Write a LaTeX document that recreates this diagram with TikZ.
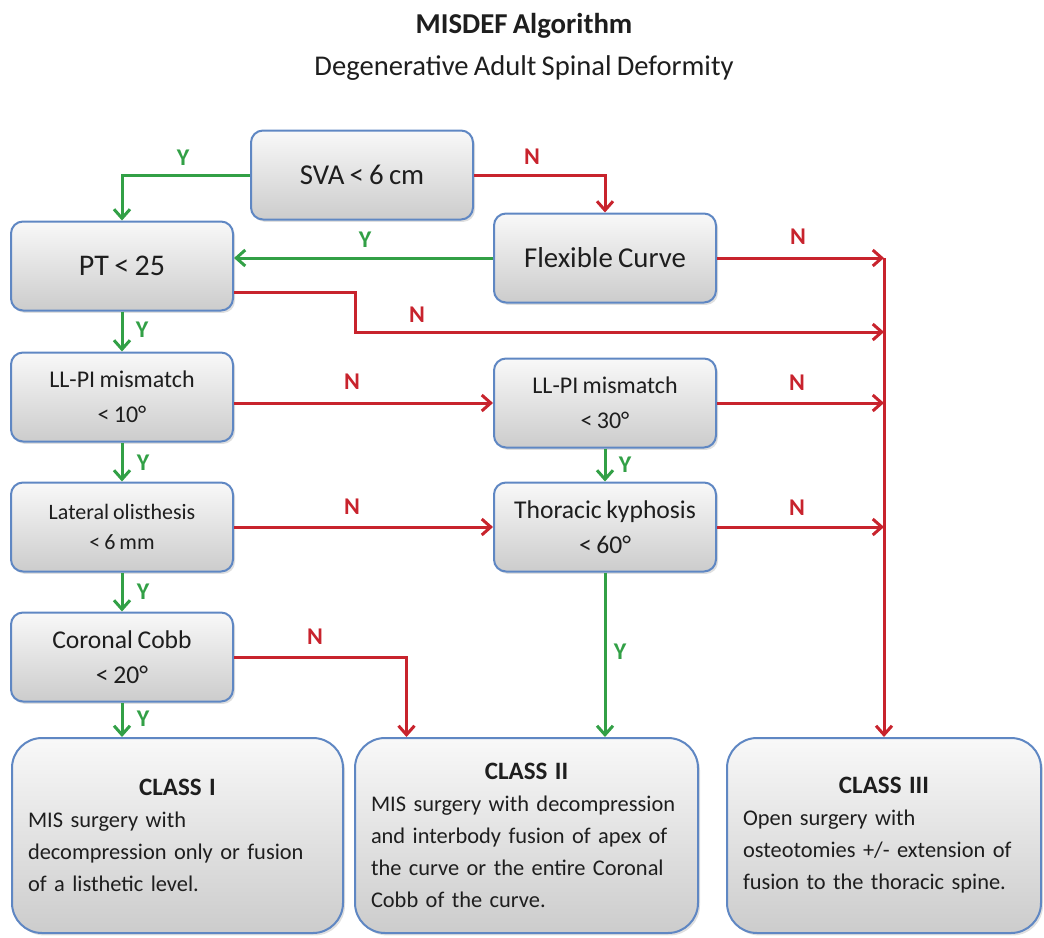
\documentclass[tikz,border=0pt]{standalone}
\usepackage{fontspec}
\setmainfont[WordSpace=0.8]{Carlito}
\usetikzlibrary{shadows,arrows.meta}

\definecolor{boxblue}{RGB}{95,135,195}
\definecolor{yesgreen}{RGB}{50,160,70}
\definecolor{nored}{RGB}{200,35,45}
\definecolor{txt}{RGB}{30,30,30}

\tikzset{
  >={Straight Barb[length=4.5pt,width=8pt]},
  cond/.style={draw=boxblue, line width=1pt, rounded corners=6pt,
    top color=gray!5, bottom color=gray!40,
    drop shadow={opacity=0.25, shadow xshift=1pt, shadow yshift=-1.2pt},
    minimum width=111pt, minimum height=44.5pt, align=center, text=txt,
    font=\fontsize{12}{17.5}\selectfont},
  classbox/.style={cond, rounded corners=15pt, minimum height=97.5pt,
    inner xsep=8pt, align=left, font=\fontsize{11.2}{16}\selectfont},
  yesarrow/.style={draw=yesgreen, line width=1.5pt, ->},
  noarrow/.style={draw=nored, line width=1.5pt, ->},
  ylabel/.style={text=yesgreen, font=\bfseries\fontsize{12}{12}\selectfont},
  nlabel/.style={text=nored, font=\bfseries\fontsize{12}{12}\selectfont}
}

\begin{document}
\begin{tikzpicture}[x=0.5pt,y=-0.5pt]
\useasboundingbox (0,0) rectangle (1044,937);

\node[anchor=base, text=txt, font=\bfseries\fontsize{14.4}{17}\selectfont] at (524,33) (title) {MISDEF Algorithm};
\node[anchor=base, text=txt, font=\fontsize{14.3}{17}\selectfont] at (524,75) (subtitle) {Degenerative Adult Spinal Deformity};

\node[cond, font=\fontsize{14.4}{17}\selectfont] at (362,175) (sva) {SVA < 6 cm};
\node[cond, font=\fontsize{14.4}{17}\selectfont] at (605,258) (flex) {Flexible Curve};
\node[cond, font=\fontsize{15}{17}\selectfont] at (122,266) (pt) {PT < 25};
\node[cond] at (122,397) (llpi1) {LL-PI mismatch\\< 10°};
\node[cond] at (605,403) (llpi2) {LL-PI mismatch\\< 30°};
\node[cond, font=\fontsize{11}{15}\selectfont] at (122,527) (olis) {Lateral olisthesis\\< 6 mm};
\node[cond, font=\fontsize{12.8}{17.5}\selectfont] at (605,527) (kyph) {Thoracic kyphosis\\< 60°};
\node[cond, font=\fontsize{12.8}{17.5}\selectfont] at (122,657) (cobb) {Coronal Cobb\\< 20°};

\node[classbox, minimum width=165.5pt, text width=149.5pt] at (177.5,835.5) (cls1)
  {{\centering\bfseries\fontsize{12.5}{16}\selectfont CLASS I\par}\raggedright
   MIS surgery with\\decompression only or fusion\\of a listhetic level.};
\node[classbox, minimum width=171.5pt, text width=155.5pt] at (526.5,835.5) (cls2)
  {{\centering\bfseries\fontsize{12.5}{16}\selectfont CLASS II\par}\raggedright
   MIS surgery with decompression\\and interbody fusion of apex of\\the curve or the entire Coronal\\Cobb of the curve.};
\node[classbox, minimum width=157pt, text width=141pt] at (884,835.5) (cls3)
  {{\centering\bfseries\fontsize{12.5}{16}\selectfont CLASS III\par}\raggedright
   Open surgery with\\osteotomies +/- extension of\\fusion to the thoracic spine.};

\coordinate (ptbend) at (355,332);

\draw[yesarrow] (sva.west) -| (pt.north);
\draw[noarrow] (sva.east) -| (flex.north);
\draw[yesarrow] (flex.west) -- (flex.west -| pt.east);
\draw[noarrow] (flex.east) -- (flex.east -| cls3.north);
\draw[noarrow] ([yshift=-13pt]pt.east) -| (ptbend) -- (ptbend -| cls3.north);
\draw[noarrow] (flex.east -| cls3.north) -- (cls3.north);

\draw[yesarrow] (pt.south) -- (llpi1.north);
\draw[yesarrow] (llpi1.south) -- (olis.north);
\draw[yesarrow] (olis.south) -- (cobb.north);
\draw[yesarrow] (cobb.south) -- (cobb.south |- cls1.north);

\draw[noarrow] (llpi2.west -| llpi1.east) -- (llpi2.west);
\draw[noarrow] (olis.east) -- (kyph.west);
\draw[noarrow] (llpi2.east) -- (llpi2.east -| cls3.north);
\draw[noarrow] (kyph.east) -- (kyph.east -| cls3.north);
\draw[yesarrow] (llpi2.south) -- (kyph.north);
\draw[yesarrow] (kyph.south) -- (kyph.south |- cls2.north);
\draw[noarrow] (cobb.east) -| ([xshift=-60pt]cls2.north);

\node[ylabel] at (183,158) (y1) {Y};
\node[nlabel] at (532,157) (n1) {N};
\node[ylabel] at (365,240) (y2) {Y};
\node[nlabel] at (798,237) (n2) {N};
\node[nlabel] at (417,315) (n3) {N};
\node[ylabel] at (142,330) (y3) {Y};
\node[nlabel] at (352,382) (n4) {N};
\node[nlabel] at (797,383) (n5) {N};
\node[ylabel] at (143,463) (y4) {Y};
\node[ylabel] at (625,465) (y5) {Y};
\node[nlabel] at (352,507) (n6) {N};
\node[nlabel] at (797,508) (n7) {N};
\node[ylabel] at (143,592) (y6) {Y};
\node[ylabel] at (620,652) (y7) {Y};
\node[nlabel] at (315,637) (n8) {N};
\node[ylabel] at (143,719) (y8) {Y};

\end{tikzpicture}
\end{document}
